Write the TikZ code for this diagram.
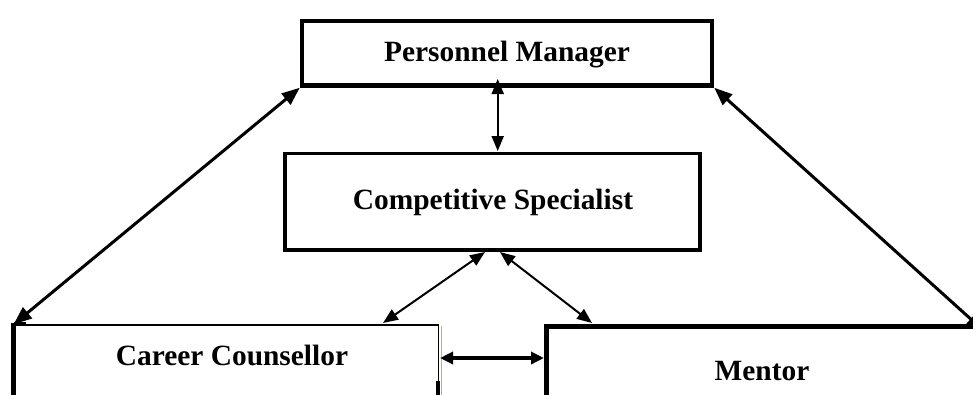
\documentclass[tikz,border=0pt]{standalone}
\usepackage{fontspec}
\setmainfont{Liberation Serif}
\usetikzlibrary{arrows.meta,calc}
\begin{document}
\begin{tikzpicture}[x=1pt,y=-1pt,
  box/.style={draw, rectangle, inner sep=0pt},
  lbl/.style={font=\fontsize{29.4}{31}\selectfont\bfseries, anchor=base, inner sep=0pt},
  bigtip/.style={{Triangle[length=18pt,width=14pt]}-{Triangle[length=18pt,width=14pt]}},
  midtip/.style={{Triangle[length=15pt,width=12pt]}-{Triangle[length=15pt,width=12pt]}},
  htip/.style={{Triangle[length=13pt,width=12pt]}-{Triangle[length=13pt,width=12pt]}}]
\useasboundingbox (0,0) rectangle (973,394);
\clip (0,0) rectangle (973,394);
% boxes
\node[box, line width=4.5pt, minimum width=410pt, minimum height=64.5pt] (pm) at (507,53.25) {};
\node[box, line width=3.5pt, minimum width=415pt, minimum height=96.5pt] (cs) at (492.5,201.75) {};
\node[box, line width=1.6pt, minimum width=424pt, minimum height=95pt] (cc) at (226.5,372.5) {};
\node[box, line width=5pt, minimum width=453.5pt, minimum height=94pt] (me) at (773.25,373) {};
% career counsellor irregular border
\draw[line width=5pt] ([yshift=1pt]cc.north west) -- (cc.south west);
\draw[line width=4.5pt] (cc.north west) -- ([xshift=12pt]cc.north west);
\draw[line width=4pt] ([xshift=-1pt,yshift=-57pt]cc.north east) -- ([xshift=-1pt]cc.south east);
\draw[line width=1.5pt, color={rgb,255:red,175;green,180;blue,150}] ([xshift=2pt,yshift=-2pt]cc.north east) -- ([xshift=2pt]cc.south east);
% labels
\node[lbl] (tpm) at (507,61) {Personnel Manager};
\node[lbl] (tcs) at (493,209) {Competitive Specialist};
\node[lbl] (tcc) at (232,365) {Career Counsellor};
\node[lbl] (tme) at (762,380) {Mentor};
% connector end points
\coordinate (pmv) at (497.7,79);
\coordinate (csv) at (497.7,151);
\coordinate (csl) at (485,252);
\coordinate (ccn) at (383,323);
\coordinate (csr) at (500,252);
\coordinate (men) at (592,323);
\coordinate (mer) at (984,331);
\coordinate (hl) at (440,358);
\coordinate (hr) at (544,358);
% connectors
\draw[bigtip, line width=3pt] (pm.south west) -- (cc.north west);
\draw[bigtip, line width=3pt] (pm.south east) -- (mer);
\draw[midtip, line width=2pt] (pmv) -- (csv);
\draw[midtip, line width=2pt] (csl) -- (ccn);
\draw[midtip, line width=2pt] (csr) -- (men);
\draw[htip, line width=3.5pt] (hl) -- (hr);
\end{tikzpicture}
\end{document}
